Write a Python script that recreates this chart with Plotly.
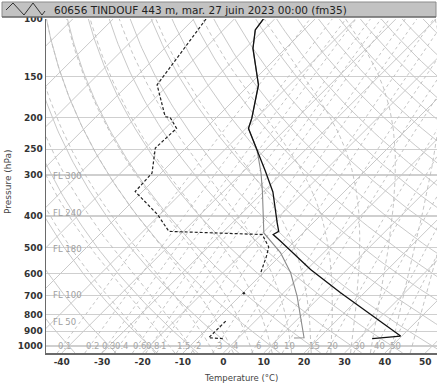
import numpy as np
import plotly.graph_objects as go

# ---------------- data ----------------
temp_p = [100, 108, 123, 159, 201, 216, 292, 338, 420, 446, 456, 478, 583, 687, 932, 949]
temp_c = [-72.8, -72.1, -68.1, -57.7, -51.1, -49.4, -34.6, -27.6, -18.9, -16.4, -17.0, -13.5, 0.9, 14.1, 39.7, 33.3]

wetbulb_p = [100, 108, 123, 159, 201, 216, 251, 296, 337, 440, 451, 519, 597, 704, 810, 943, 945]
wetbulb_c = [-72.8, -72.1, -68.1, -57.7, -51.1, -49.4, -42.0, -35.2, -30.3, -20.7, -19.7, -10.6, -3.2, 4.2, 10.0, 16.2, 13.8]

dew_p = [100, 159, 199, 200, 216, 248, 296, 337, 396, 446, 456, 498, 531, 597, None, 690, None, 839, 943, 949]
dew_c = [-87.0, -82.8, -72.9, -71.5, -67.2, -67.6, -62.2, -61.8, -50.6, -43.6, -19.7, -15.0, -13.3, -10.6, None, -9.7, None, -7.3, -7.4, -3.7]

pressure_ticks = [100, 150, 200, 250, 300, 400, 500, 600, 700, 800, 900, 1000]
temp_ticks = [-40, -30, -20, -10, 0, 10, 20, 30, 40, 50]
mixing_ratios = [0.1, 0.2, 0.3, 0.4, 0.6, 0.8, 1, 1.5, 2, 3, 4, 6, 8, 10, 15, 20, 30, 40, 50]
mixing_labels = ["0.1", "0.2", "0.3", "0.4", "0.6", "0.8", "1", "1.5", "2", "3", "4", "6", "8", "10", "15", "20", "30", "40", "50"]
flight_levels = ["FL 300", "FL 240", "FL 180", "FL 100", "FL 50"]
flight_level_p = [301, 393, 506, 697, 843]
title_text = "60656 TINDOUF 443 m, mar. 27 juin 2023 00:00 (fm35)"

# ---------------- skew-T geometry ----------------
P_BOT, P_TOP = 1050.0, 100.0
X_MIN, X_MAX = -43.9, 52.9
SKEW = 81.0  # degC of horizontal shift per decade of pressure


def skew_x(t, p):
    t = np.asarray(t, dtype=float)
    p = np.asarray(p, dtype=float)
    return t + SKEW * np.log10(P_BOT / p)


def with_gaps(tl, pl):
    xs, ys = [], []
    for t, p in zip(tl, pl):
        if t is None or p is None:
            xs.append(None)
            ys.append(None)
        else:
            xs.append(float(skew_x(t, p)))
            ys.append(p)
    return xs, ys


fig = go.Figure()
GRID = "#c9c9c9"
DASHG = "#bdbdbd"

plev = np.logspace(np.log10(P_BOT), np.log10(P_TOP), 80)

# isotherms
xs, ys = [], []
for t0 in range(-150, 60, 10):
    xs += list(skew_x([t0, t0], [P_BOT, P_TOP])) + [None]
    ys += [P_BOT, P_TOP, None]
fig.add_trace(go.Scatter(x=xs, y=ys, mode="lines", line=dict(color=GRID, width=1),
                         hoverinfo="skip", showlegend=False))

# dry adiabats
xs, ys = [], []
for th in range(-40, 220, 10):
    tk = (th + 273.15) * (plev / 1000.0) ** 0.2857 - 273.15
    xs += list(skew_x(tk, plev)) + [None]
    ys += list(plev) + [None]
fig.add_trace(go.Scatter(x=xs, y=ys, mode="lines", line=dict(color=GRID, width=1),
                         hoverinfo="skip", showlegend=False))


# moist adiabats
def es(tc):
    return 6.112 * np.exp(17.67 * tc / (tc + 243.5))


def dtdp(tk, p):
    e = es(tk - 273.15)
    rs = 0.622 * e / (p - e)
    num = 287.0 * tk + 2.5e6 * rs
    den = 1004.0 + 2.5e6 ** 2 * rs * 0.622 / (287.0 * tk * tk)
    return num / (den * p)


def moist(t0):
    out_p, out_t = [1000.0], [t0 + 273.15]
    p, t = 1000.0, t0 + 273.15
    dp = -5.0
    while p + dp >= P_TOP - 0.1:
        k1 = dtdp(t, p)
        k2 = dtdp(t + k1 * dp, p + dp)
        t = t + 0.5 * (k1 + k2) * dp
        p = p + dp
        out_p.append(p)
        out_t.append(t)
    p, t = 1000.0, t0 + 273.15
    lo_p, lo_t = [], []
    while p < P_BOT:
        k1 = dtdp(t, p)
        k2 = dtdp(t + k1 * 5.0, p + 5.0)
        t = t + 0.5 * (k1 + k2) * 5.0
        p = p + 5.0
        lo_p.append(p)
        lo_t.append(t)
    pp = lo_p[::-1] + out_p
    tt = lo_t[::-1] + out_t
    return np.array(pp), np.array(tt) - 273.15


xs, ys = [], []
for t0 in range(-20, 46, 5):
    pp, tt = moist(t0)
    xs += list(skew_x(tt, pp)) + [None]
    ys += list(pp) + [None]
fig.add_trace(go.Scatter(x=xs, y=ys, mode="lines", line=dict(color=DASHG, width=0.9, dash="4px,3px"),
                         hoverinfo="skip", showlegend=False))


# mixing ratio lines
def td_from_w(w, p):
    e = w * p / (622.0 + w)
    a = np.log(e / 6.112)
    return 243.5 * a / (17.67 - a)


xs, ys = [], []
for w in mixing_ratios:
    td = td_from_w(w, plev)
    xs += list(skew_x(td, plev)) + [None]
    ys += list(plev) + [None]
fig.add_trace(go.Scatter(x=xs, y=ys, mode="lines", line=dict(color=DASHG, width=0.9, dash="3px,3px"),
                         hoverinfo="skip", showlegend=False))

# ---------------- sounding ----------------
x, y = with_gaps(wetbulb_c, wetbulb_p)
fig.add_trace(go.Scatter(x=x, y=y, mode="lines", line=dict(color="#8a8a8a", width=1.1),
                         showlegend=False))
x, y = with_gaps(temp_c, temp_p)
fig.add_trace(go.Scatter(x=x, y=y, mode="lines", line=dict(color="#111111", width=1.3),
                         showlegend=False))
x, y = with_gaps(dew_c, dew_p)
fig.add_trace(go.Scatter(x=x, y=y, mode="lines", connectgaps=False,
                         line=dict(color="#222222", width=1.2, dash="3px,2px"), showlegend=False))
iso = [(t, p) for i, (t, p) in enumerate(zip(dew_c, dew_p))
       if t is not None and (i == 0 or dew_c[i - 1] is None) and (i == len(dew_c) - 1 or dew_c[i + 1] is None)]
if iso:
    fig.add_trace(go.Scatter(x=[float(skew_x(t, p)) for t, p in iso], y=[p for t, p in iso],
                             mode="markers", marker=dict(color="#222222", size=2.5),
                             showlegend=False))

# ---------------- annotations ----------------
anns = []
for w, lab in zip(mixing_ratios, mixing_labels):
    anns.append(dict(x=float(skew_x(td_from_w(w, 1000.0), 1000.0)) + 0.7, y=3.0, xref="x", yref="y",
                     text=lab, showarrow=False, font=dict(family="DejaVu Sans", size=8.5, color="#a8a8a8"),
                     xanchor="center", yanchor="middle"))
for lab, p in zip(flight_levels, flight_level_p):
    anns.append(dict(x=(51 - 46) / 391, y=float(np.log10(p)), xref="paper", yref="y",
                     text=lab, showarrow=False, font=dict(family="DejaVu Sans", size=8.5, color="#a0a0a0"),
                     xanchor="left", yanchor="middle"))


def px(xpix):
    return (xpix - 46) / 391


def py(ypix):
    return (353 - ypix) / 334


anns.append(dict(x=px(52), y=py(10), xref="paper", yref="paper", text=title_text,
                 showarrow=False, xanchor="left", yanchor="middle",
                 font=dict(family="DejaVu Sans", size=10.5, color="#222222")))
anns.append(dict(x=px(241), y=py(378), xref="paper", yref="paper",
                 text="Temperature (°C)", showarrow=False, xanchor="center", yanchor="middle",
                 font=dict(family="DejaVu Sans", size=8.5, color="#444444")))
anns.append(dict(x=px(8), y=py(182), xref="paper", yref="paper",
                 text="Pressure (hPa)", showarrow=False, xanchor="center", yanchor="middle", textangle=-90,
                 font=dict(family="DejaVu Sans", size=9, color="#444444")))

shapes = [
    dict(type="rect", xref="paper", yref="paper", x0=px(2), x1=px(436), y0=py(17), y1=py(2),
         fillcolor="#c2c2c2", line=dict(color="#8c8c8c", width=1), layer="above"),
    dict(type="line", xref="paper", yref="paper", x0=px(2), x1=px(436), y0=py(17), y1=py(17),
         line=dict(color="#555555", width=1), layer="above"),
    dict(type="path", xref="paper", yref="paper",
         path="M {} {} L {} {} L {} {} L {} {} L {} {} L {} {}".format(
             px(6), py(10), px(13), py(3), px(24), py(15), px(33), py(3), px(42), py(15), px(45), py(11)),
         line=dict(color="#333333", width=1), layer="above"),
]

fig.update_layout(
    width=440, height=387,
    margin=dict(l=46, r=3, t=19, b=34, pad=0, autoexpand=False),
    paper_bgcolor="white", plot_bgcolor="white",
    annotations=anns, shapes=shapes,
    xaxis=dict(range=[X_MIN, X_MAX], tickvals=temp_ticks, ticktext=[str(t) for t in temp_ticks],
               showgrid=False, zeroline=False, showline=True, linecolor="#6a6a6a", linewidth=1.5,
               ticks="", automargin=False,
               tickfont=dict(family="DejaVu Sans", size=9, color="#333333", weight="bold")),
    yaxis=dict(type="log", range=[np.log10(P_BOT), np.log10(P_TOP)], tickvals=pressure_ticks,
               ticktext=[str(p) for p in pressure_ticks], showgrid=True, gridcolor="#cfcfcf", gridwidth=1.2,
               zeroline=False, showline=True, linecolor="#6a6a6a", linewidth=1.5, ticks="", automargin=False,
               tickfont=dict(family="DejaVu Sans", size=9, color="#333333", weight="bold")),
)

fig.write_html("out.html", config={"displayModeBar": False, "staticPlot": True},
               post_script="document.body.style.margin='0';document.body.style.overflow='hidden';")
